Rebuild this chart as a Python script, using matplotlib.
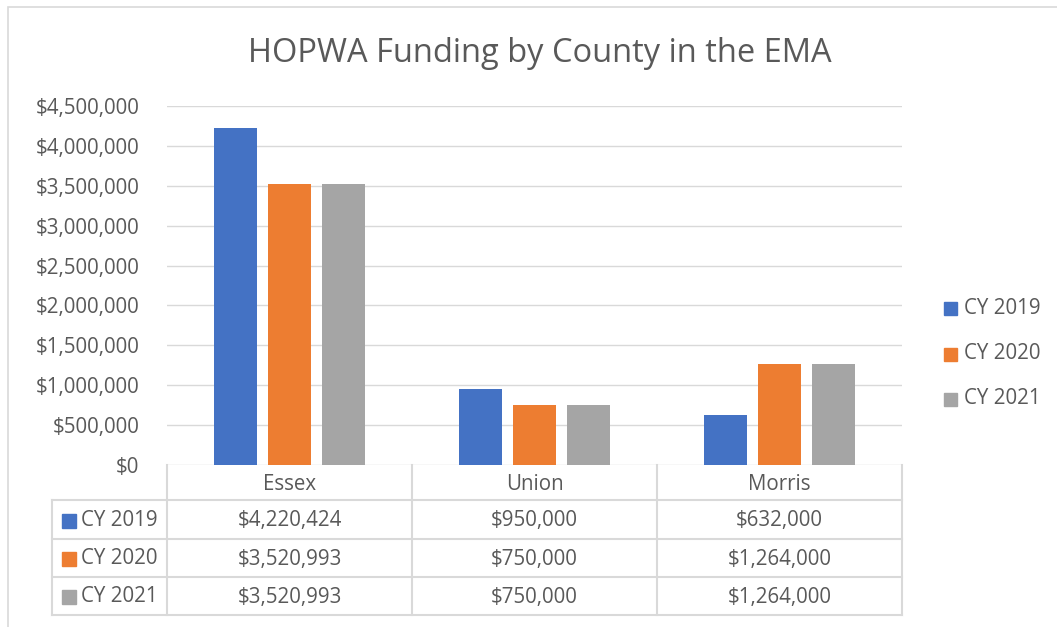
import numpy as np
import matplotlib
matplotlib.use('Agg')
import matplotlib.pyplot as plt
from matplotlib.patches import Rectangle
from matplotlib.ticker import FuncFormatter

plt.rcParams['font.family'] = ['Open Sans', 'DejaVu Sans']

counties = ['Essex', 'Union', 'Morris']
series_names = ['CY 2019', 'CY 2020', 'CY 2021']
cy2019 = [4220424, 950000, 632000]
cy2020 = [3520993, 750000, 1264000]
cy2021 = [3520993, 750000, 1264000]
colors = ['#4472C4', '#ED7D31', '#A5A5A5']

text_col = '#595959'
grid_col = '#D9D9D9'
fs = 14.8

fig = plt.figure(figsize=(10.57, 6.27), dpi=100)
W, H = 1057, 627
ax = fig.add_axes([167 / W, 1 - 465 / H, 735 / W, 359 / H])

# outer chart border
fig.add_artist(Rectangle((8 / W, -0.01), 1.1, 1 - 7 / H + 0.01, transform=fig.transFigure,
                         fill=False, edgecolor='#D9D9D9', lw=1.2))

x = np.arange(len(counties))
width = 0.176
offsets = [-0.222, 0, 0.222]
for vals, name, col, off in zip([cy2019, cy2020, cy2021], series_names, colors, offsets):
    ax.bar(x + off, vals, width, color=col, label=name, zorder=3)

ax.set_xlim(-0.5, 2.5)
ax.set_ylim(0, 4500000)
ax.set_yticks(np.arange(0, 4500001, 500000))
ax.yaxis.set_major_formatter(FuncFormatter(lambda v, p: '${:,.0f}'.format(v)))
ax.tick_params(axis='y', length=0, pad=20, labelsize=fs, labelcolor=text_col)
ax.set_xticks([])
ax.grid(axis='y', color=grid_col, lw=1, zorder=0)
for s in ax.spines.values():
    s.set_visible(False)

fig.text(540 / W, 1 - 54 / H, 'HOPWA Funding by County in the EMA', ha='center', va='center',
         fontsize=23.5, color=text_col)

# legend on the right
for i, (name, col) in enumerate(zip(series_names, colors)):
    yy = 1 - (308 + i * 45.5) / H
    fig.add_artist(Rectangle((944 / W, yy - 7 / H), 13 / W, 13 / H, transform=fig.transFigure,
                             color=col))
    fig.text(964 / W, yy, name, ha='left', va='center', fontsize=fs, color=text_col)

# data table under the axis
tr = ax.get_xaxis_transform()
ypx = [465, 500, 539, 577, 615]
yax = [(465 - p) / 359 for p in ypx]
xl = -0.5 - 115 / 245
lc = dict(color=grid_col, lw=1.5, clip_on=False, transform=tr)
for xb in [-0.5, 0.5, 1.5, 2.5]:
    ax.plot([xb, xb], [yax[0], yax[-1]], **lc)
ax.plot([xl, xl], [yax[1], yax[-1]], **lc)
for i, yb in enumerate(yax[1:]):
    ax.plot([xl, 2.5], [yb, yb], **lc)
for j, c in enumerate(counties):
    ax.text(j, (yax[0] + yax[1]) / 2 - 2 / 359, c, transform=tr, ha='center', va='center',
            fontsize=fs, color=text_col)
for i, (name, vals, col) in enumerate(zip(series_names, [cy2019, cy2020, cy2021], colors)):
    yc = (yax[i + 1] + yax[i + 2]) / 2 - 1 / 359
    ax.add_patch(Rectangle((xl + 10 / 245, yc - 7 / 359), 14 / 245, 14 / 359, transform=tr,
                           color=col, clip_on=False))
    ax.text(xl + 29 / 245, yc, name, transform=tr, ha='left', va='center',
            fontsize=fs, color=text_col)
    for j, v in enumerate(vals):
        ax.text(j, yc, '${:,.0f}'.format(v), transform=tr, ha='center', va='center',
                fontsize=fs, color=text_col)

fig.savefig('out.png', dpi=100)
